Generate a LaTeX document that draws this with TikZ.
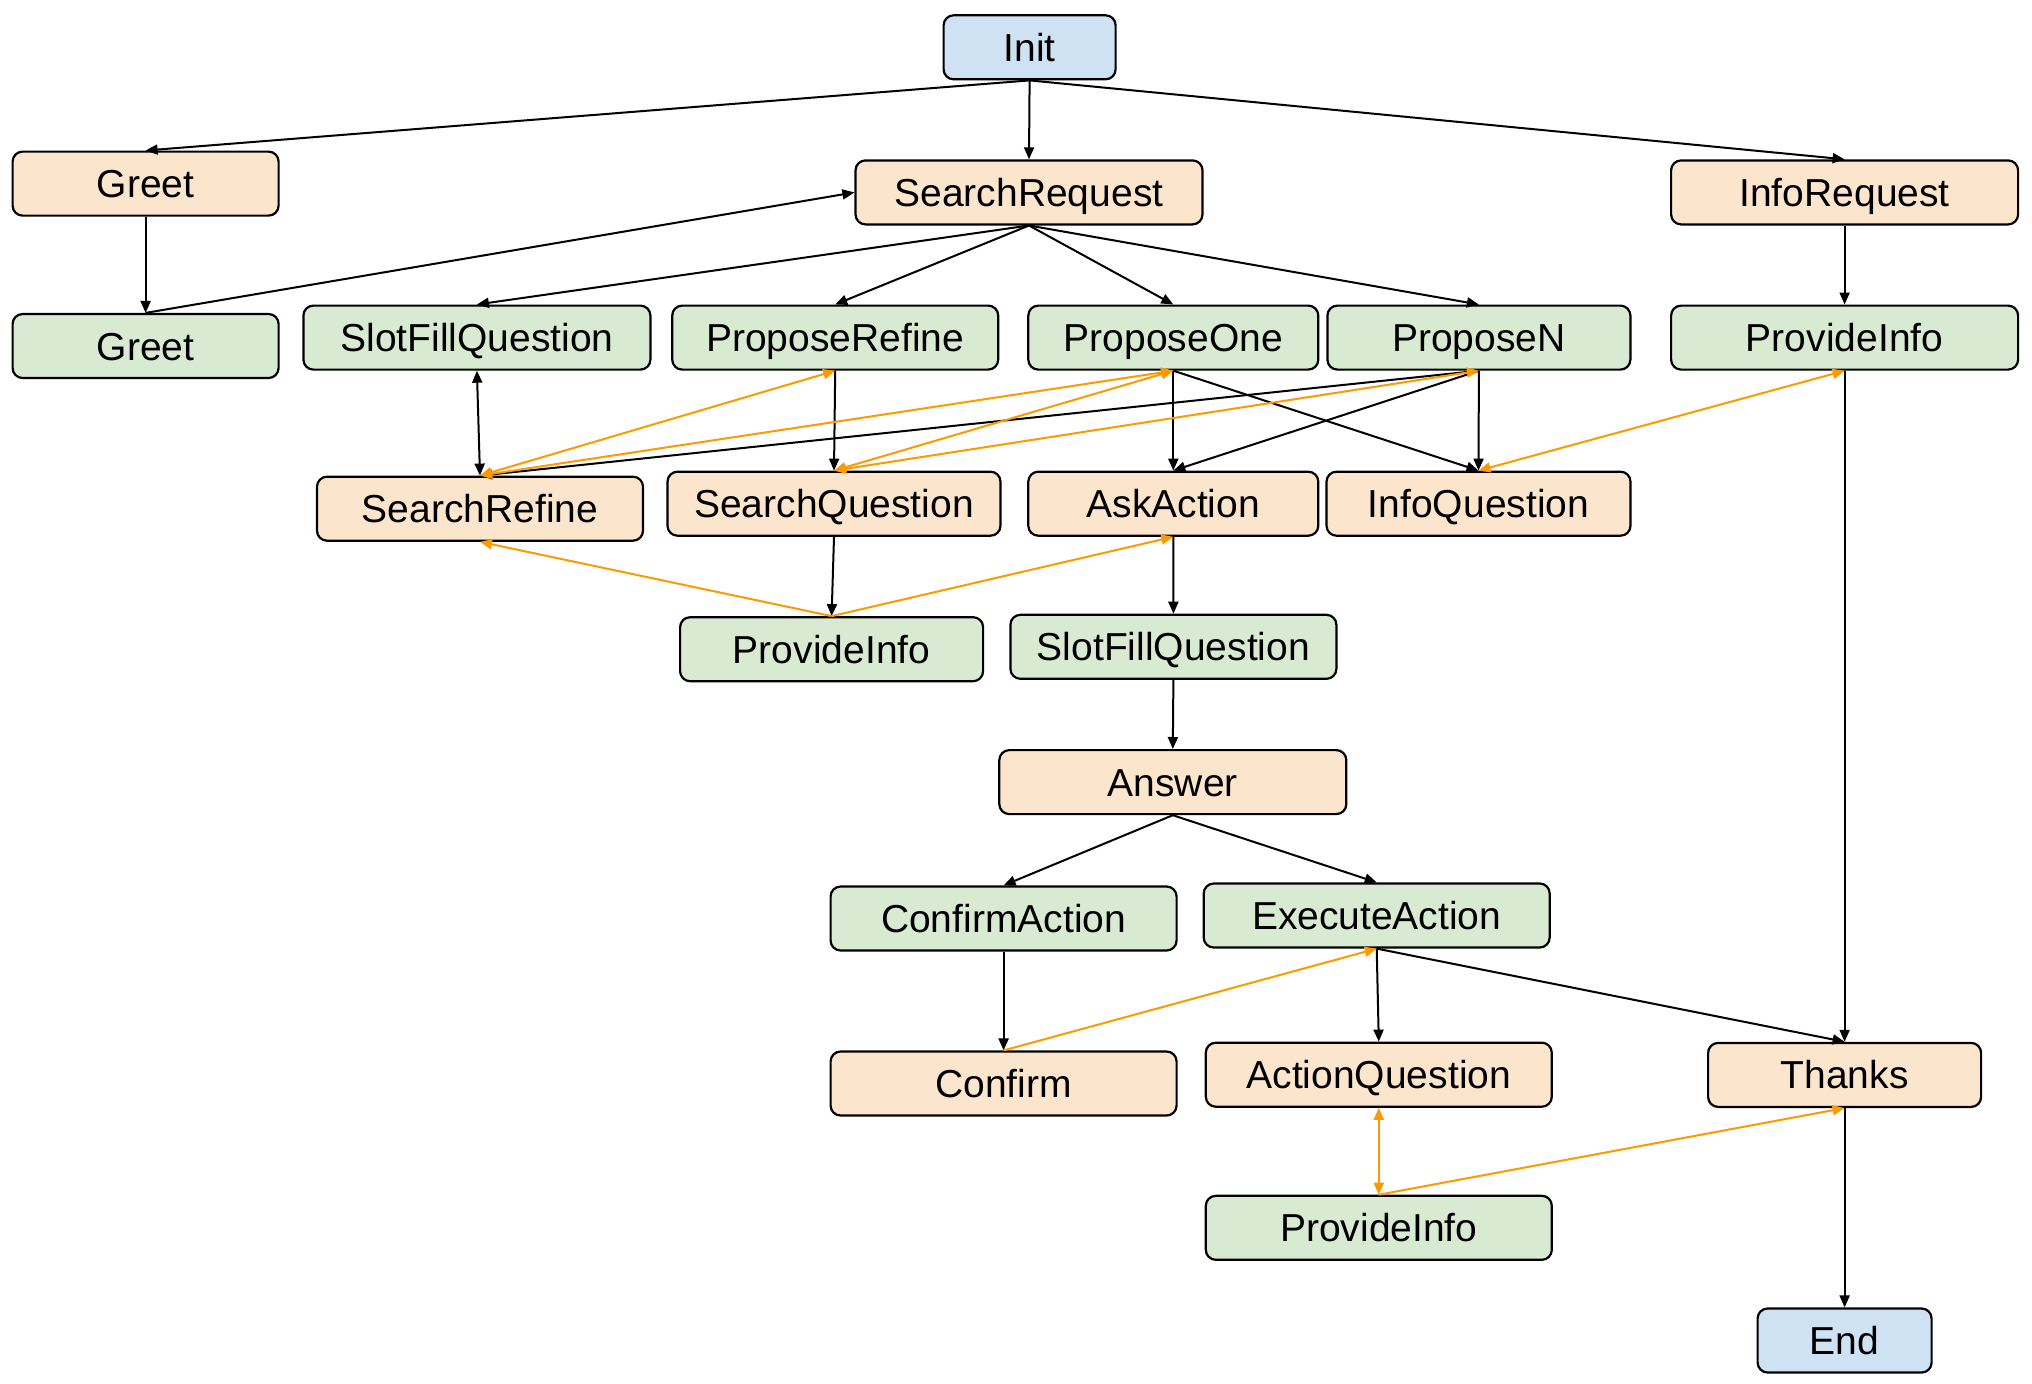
\documentclass[tikz,border=0pt]{standalone}
\usepackage{fontspec}
\setmainfont{Liberation Sans}
\usetikzlibrary{arrows.meta}

\definecolor{userfill}{HTML}{FCE5CD}
\definecolor{agentfill}{HTML}{D9EAD3}
\definecolor{termfill}{HTML}{CFE2F3}
\definecolor{altline}{HTML}{FF9900}

\tikzset{
  state/.style={draw=black, line width=2.2pt, rounded corners=10pt,
    minimum height=64pt, inner sep=0pt, text height=28pt, text depth=0pt,
    font=\fontsize{39pt}{47pt}\selectfont},
  user/.style={state, fill=userfill},
  agent/.style={state, fill=agentfill},
  term/.style={state, fill=termfill},
  arr/.style={draw=black, line width=2pt, -{Triangle[length=12pt,width=10pt]}},
  barr/.style={draw=black, line width=2pt, {Triangle[length=12pt,width=10pt]}-{Triangle[length=12pt,width=10pt]}},
  oarr/.style={draw=altline, line width=2pt, -{Triangle[length=12pt,width=10pt]}},
  obarr/.style={draw=altline, line width=2pt, {Triangle[length=12pt,width=10pt]}-{Triangle[length=12pt,width=10pt]}},
}

\begin{document}
\begin{tikzpicture}[x=1pt, y=-1pt]
\useasboundingbox (0,0) rectangle (2032,1384);

% states
\node[term,  minimum width=172pt] (init)    at (1029.6, 47.3)  {Init};
\node[user,  minimum width=266pt] (greet1)  at (145.6, 183.6)  {Greet};
\node[user,  minimum width=347pt] (sreq)    at (1029.0, 192.4) {SearchRequest};
\node[user,  minimum width=347pt] (ireq)    at (1844.6, 192.4) {InfoRequest};

\node[agent, minimum width=266pt] (greet2)  at (145.6, 346.0)  {Greet};
\node[agent, minimum width=347pt] (sfq1)    at (476.9, 337.6)  {SlotFillQuestion};
\node[agent, minimum width=326pt] (prefine) at (835.2, 337.6)  {ProposeRefine};
\node[agent, minimum width=290pt] (pone)    at (1173.3, 337.6) {ProposeOne};
\node[agent, minimum width=303pt] (pN)      at (1478.9, 337.6) {ProposeN};
\node[agent, minimum width=347pt] (pinfo1)  at (1844.6, 337.6) {ProvideInfo};

\node[user,  minimum width=326pt] (srefine) at (480.0, 508.7)  {SearchRefine};
\node[user,  minimum width=333pt] (squest)  at (834.0, 503.7)  {SearchQuestion};
\node[user,  minimum width=290pt] (askact)  at (1173.3, 503.7) {AskAction};
\node[user,  minimum width=304pt] (iquest)  at (1478.5, 503.7) {InfoQuestion};

\node[agent, minimum width=303pt] (pinfo2)  at (831.6, 649.2)  {ProvideInfo};
\node[agent, minimum width=326pt] (sfq2)    at (1173.4, 646.8) {SlotFillQuestion};

\node[user,  minimum width=347pt] (answer)  at (1172.8, 782.1) {Answer};

\node[agent, minimum width=346pt] (confact) at (1003.6, 918.5) {ConfirmAction};
\node[agent, minimum width=346pt] (exec)    at (1376.7, 915.5) {ExecuteAction};

\node[user,  minimum width=346pt] (confirm) at (1003.6, 1083.5) {Confirm};
\node[user,  minimum width=346pt] (aquest)  at (1378.8, 1074.7) {ActionQuestion};
\node[user,  minimum width=273pt] (thanks)  at (1844.6, 1074.9) {Thanks};

\node[agent, minimum width=346pt] (pinfo3)  at (1378.8, 1227.8) {ProvideInfo};
\node[term,  minimum width=174pt] (end)     at (1844.6, 1340.5) {End};

% main transitions
\draw[arr] (init.south) -- (greet1.north);
\draw[arr] (init.south) -- (sreq.north);
\draw[arr] (init.south) -- (ireq.north);
\draw[arr] (greet1.south) -- (greet2.north);
\draw[arr] (greet2.north) -- (sreq.west);
\draw[arr] (sreq.south) -- (sfq1.north);
\draw[arr] (sreq.south) -- (prefine.north);
\draw[arr] (sreq.south) -- (pone.north);
\draw[arr] (sreq.south) -- (pN.north);
\draw[arr] (ireq.south) -- (pinfo1.north);
\draw[barr] (sfq1.south) -- (srefine.north);
\draw[arr] (prefine.south) -- (squest.north);
\draw[arr] (pN.south) -- (srefine.north);
\draw[arr] (pone.south) -- (askact.north);
\draw[arr] (pone.south) -- (iquest.north);
\draw[arr] (pN.south) -- (askact.north);
\draw[arr] (pN.south) -- (iquest.north);
\draw[arr] (pinfo1.south) -- (thanks.north);
\draw[arr] (squest.south) -- (pinfo2.north);
\draw[arr] (askact.south) -- (sfq2.north);
\draw[arr] (sfq2.south) -- (answer.north);
\draw[arr] (answer.south) -- (confact.north);
\draw[arr] (answer.south) -- (exec.north);
\draw[arr] (confact.south) -- (confirm.north);
\draw[arr] (exec.south) -- (aquest.north);
\draw[arr] (exec.south) -- (thanks.north);
\draw[arr] (thanks.south) -- (end.north);

% alternative transitions
\draw[obarr] (srefine.north) -- (prefine.south);
\draw[obarr] (srefine.north) -- (pone.south);
\draw[obarr] (squest.north) -- (pone.south);
\draw[obarr] (squest.north) -- (pN.south);
\draw[obarr] (pinfo1.south) -- (iquest.north);
\draw[oarr] (pinfo2.north) -- (srefine.south);
\draw[oarr] (pinfo2.north) -- (askact.south);
\draw[oarr] (confirm.north) -- (exec.south);
\draw[obarr] (aquest.south) -- (pinfo3.north);
\draw[oarr] (pinfo3.north) -- (thanks.south);
\end{tikzpicture}
\end{document}
